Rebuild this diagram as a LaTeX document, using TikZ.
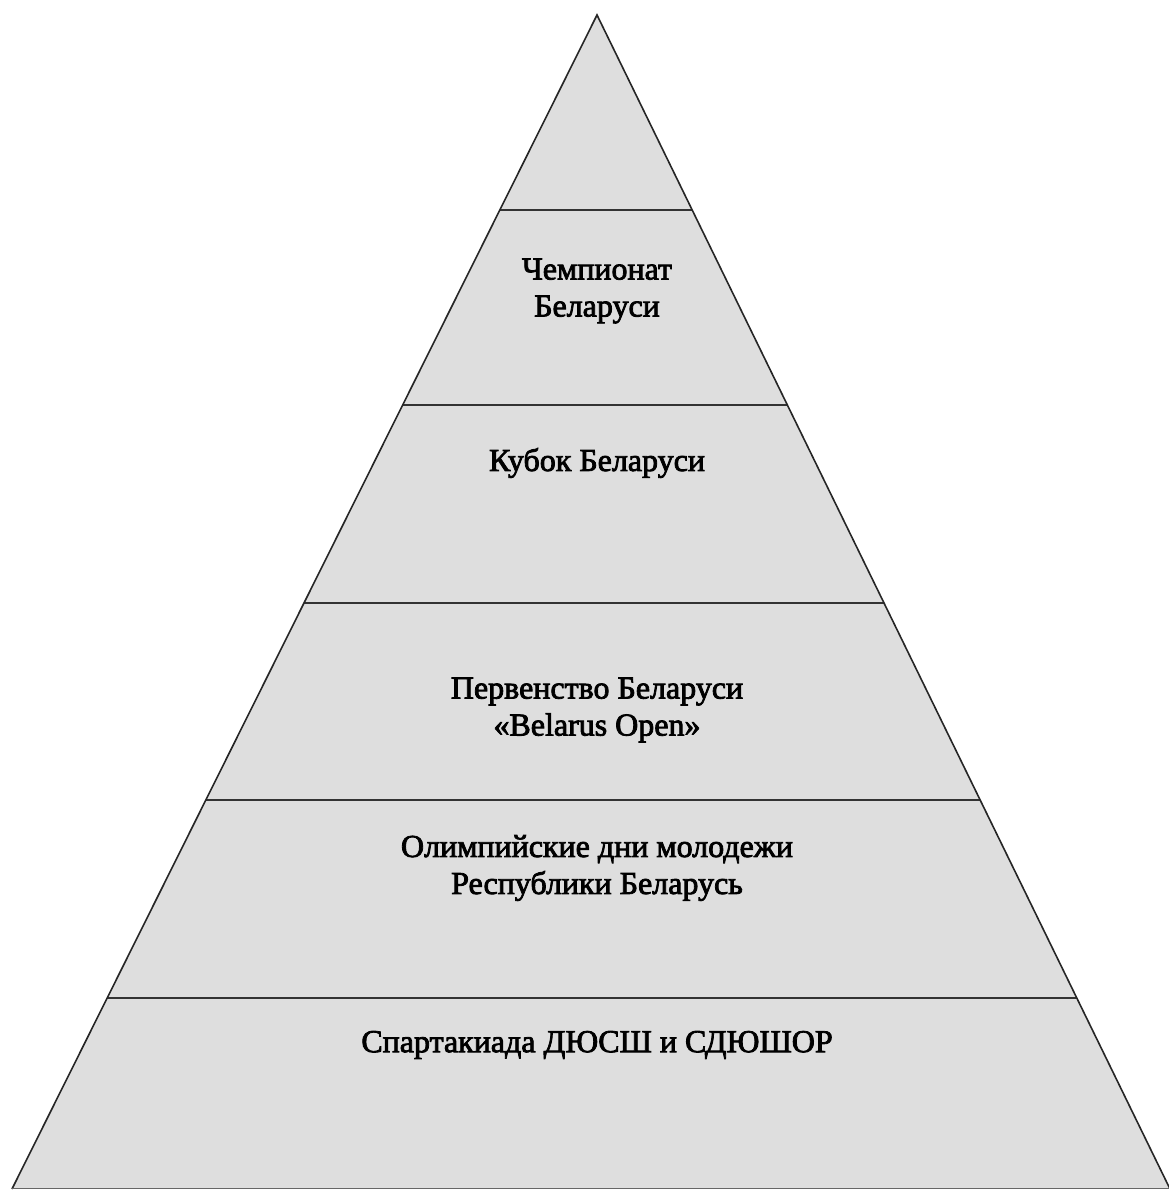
\documentclass[tikz,border=0pt]{standalone}
\usepackage{fontspec}
\setmainfont{Liberation Serif}[FakeBold=2.5]
\usetikzlibrary{calc}
\definecolor{pyrfill}{HTML}{DEDEDE}
\tikzset{
  edge/.style={draw=black!85, line width=1.6pt},
  divider/.style={draw=black!80, line width=2.4pt},
  lbl/.style={font=\fontsize{32}{37}\selectfont, align=center, inner sep=0pt, text=black}
}
\begin{document}
\begin{tikzpicture}[x=1pt,y=1pt]
\useasboundingbox (0,0) rectangle (1168,1191);
\coordinate (apex) at (597,1176);
\coordinate (bl) at (12,2);
\coordinate (br) at (1170,2);
\fill[pyrfill] (apex) -- (bl) -- (br) -- cycle;
\foreach \n/\yy in {d1/210,d2/405,d3/603,d4/800,d5/998}{
  \pgfmathsetmacro{\t}{(\yy-15)/1174}
  \coordinate (\n L) at ($(apex)!\t!(bl)$);
  \coordinate (\n R) at ($(apex)!\t!(br)$);
  \draw[divider] (\n L) -- (\n R);
}
\draw[edge, line join=miter] (bl) -- (apex) -- (br);
\draw[draw=black!60, line width=1pt] (bl) -- (br);
\node[lbl] (t1) at (597,1191-291) {Чемпионат\\Беларуси};
\node[lbl] (t2) at (597,1191-463) {Кубок Беларуси};
\node[lbl] (t3) at (597,1191-710) {Первенство Беларуси\\«Belarus Open»};
\node[lbl] (t4) at (597,1191-868) {Олимпийские дни молодежи\\Республики Беларусь};
\node[lbl] (t5) at (597,1191-1045) {Спартакиада ДЮСШ и СДЮШОР};
\end{tikzpicture}
\end{document}
